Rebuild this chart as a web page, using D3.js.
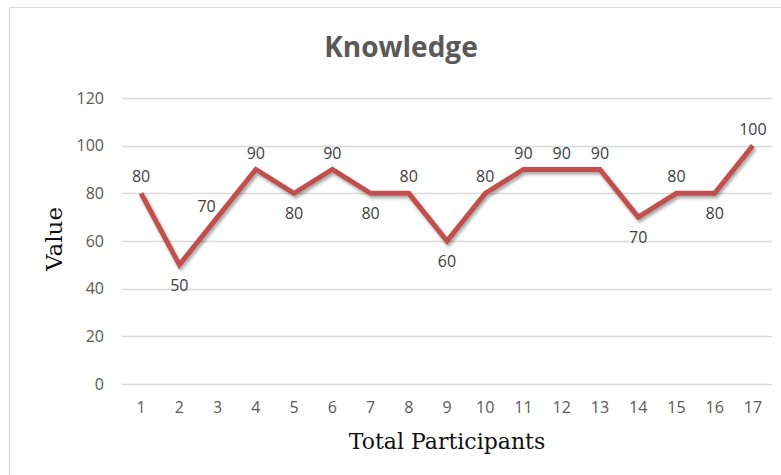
<!DOCTYPE html>
<html>
<head>
<meta charset="utf-8">
<script src="https://cdn.jsdelivr.net/npm/d3@7"></script>
<style>
	body { margin: 0; background: #fff; }
</style>
</head>
<body>
<div id="graphArea"></div>
<script>
// participants on the x axis
var participants = ["1", "2", "3", "4", "5", "6", "7", "8", "9", "10", "11", "12", "13", "14", "15", "16", "17"]

// knowledge score of each participant
var scores = [80, 50, 70, 90, 80, 90, 80, 80, 60, 80, 90, 90, 90, 70, 80, 80, 100]

// where each data label sits against its point
var labelPos = ["above", "below", "left", "above", "below", "above", "below", "above", "below",
	"above", "above", "above", "above", "below", "above", "below", "above"]

var yTicks = [0, 20, 40, 60, 80, 100, 120]

var width = 781
var height = 475
var tickFont = '"Open Sans", "Noto Sans", sans-serif'
var serifFont = '"DejaVu Serif", "Liberation Serif", serif'

var svg = d3.select("#graphArea")
	.append("svg")
	.attr("width", width)
	.attr("height", height)

// drop shadow under the line
var filter = svg.append("defs").append("filter")
	.attr("id", "shadow")
	.attr("x", "-10%").attr("y", "-10%")
	.attr("width", "120%").attr("height", "130%")
filter.append("feDropShadow")
	.attr("dx", 1.5).attr("dy", 2.5)
	.attr("stdDeviation", 1.5)
	.attr("flood-color", "#000")
	.attr("flood-opacity", 0.35)

// chart frame (only left and top visible)
svg.append("rect")
	.attr("x", 9.5).attr("y", 7.5)
	.attr("width", 800).attr("height", 500)
	.attr("fill", "none")
	.attr("stroke", "#d9d9d9")
	.attr("stroke-width", 1)

svg.append("text")
	.attr("x", 401)
	.attr("y", 57)
	.attr("text-anchor", "middle")
	.style("font-family", tickFont)
	.style("font-weight", "bold")
	.style("font-size", "28px")
	.attr("fill", "#595959")
	.text("Knowledge")

var x = d3.scaleBand()
	.domain(participants)
	.range([122, 772])

var y = d3.scaleLinear()
	.domain([0, 120])
	.range([384, 98])

// gridlines
svg.append("g")
	.selectAll("line")
	.data(yTicks)
	.enter()
	.append("line")
	.attr("x1", 122)
	.attr("x2", 772)
	.attr("y1", function(d) { return Math.round(y(d)) + 0.5 })
	.attr("y2", function(d) { return Math.round(y(d)) + 0.5 })
	.attr("stroke", "#d9d9d9")
	.attr("stroke-width", 1.3)

var yAxis = svg.append("g")
	.attr("transform", "translate(104,0)")
	.call(d3.axisLeft(y).tickValues(yTicks).tickSize(0).tickPadding(0))
yAxis.select(".domain").remove()
yAxis.selectAll("text")
	.style("font-family", tickFont)
	.style("font-size", "16px")
	.attr("fill", "#595959")

var xAxis = svg.append("g")
	.attr("transform", "translate(0,402)")
	.call(d3.axisBottom(x).tickSize(0).tickPadding(0))
xAxis.select(".domain").remove()
xAxis.selectAll("text")
	.style("font-family", tickFont)
	.style("font-size", "16px")
	.attr("fill", "#595959")

svg.append("text")
	.attr("x", 447)
	.attr("y", 449)
	.attr("text-anchor", "middle")
	.style("font-family", serifFont)
	.style("font-size", "22px")
	.attr("fill", "#111")
	.text("Total Participants")

svg.append("text")
	.attr("transform", "translate(62,239) rotate(-90)")
	.attr("text-anchor", "middle")
	.style("font-family", serifFont)
	.style("font-size", "23px")
	.attr("fill", "#111")
	.text("Value")

var dat = scores.map(function(d, i) {
	return { name: participants[i], value: d, pos: labelPos[i] }
})

var line = d3.line()
	.x(function(d) { return x(d.name) + x.bandwidth() / 2 })
	.y(function(d) { return y(d.value) })

svg.append("path")
	.datum(dat)
	.attr("d", line)
	.attr("fill", "none")
	.attr("stroke", "#c0504d")
	.attr("stroke-width", 5)
	.attr("stroke-linejoin", "miter")
	.attr("filter", "url(#shadow)")

// data labels
svg.append("g")
	.selectAll("text")
	.data(dat)
	.enter()
	.append("text")
	.attr("x", function(d) {
		var cx = x(d.name) + x.bandwidth() / 2
		return d.pos == "left" ? cx - 11 : cx
	})
	.attr("y", function(d) {
		var cy = y(d.value)
		if(d.pos == "below") return cy + 26
		if(d.pos == "left") return cy - 5
		return cy - 11
	})
	.attr("text-anchor", "middle")
	.style("font-family", tickFont)
	.style("font-size", "16px")
	.attr("fill", "#404040")
	.text(function(d) { return d.value })
</script>
</body>
</html>
